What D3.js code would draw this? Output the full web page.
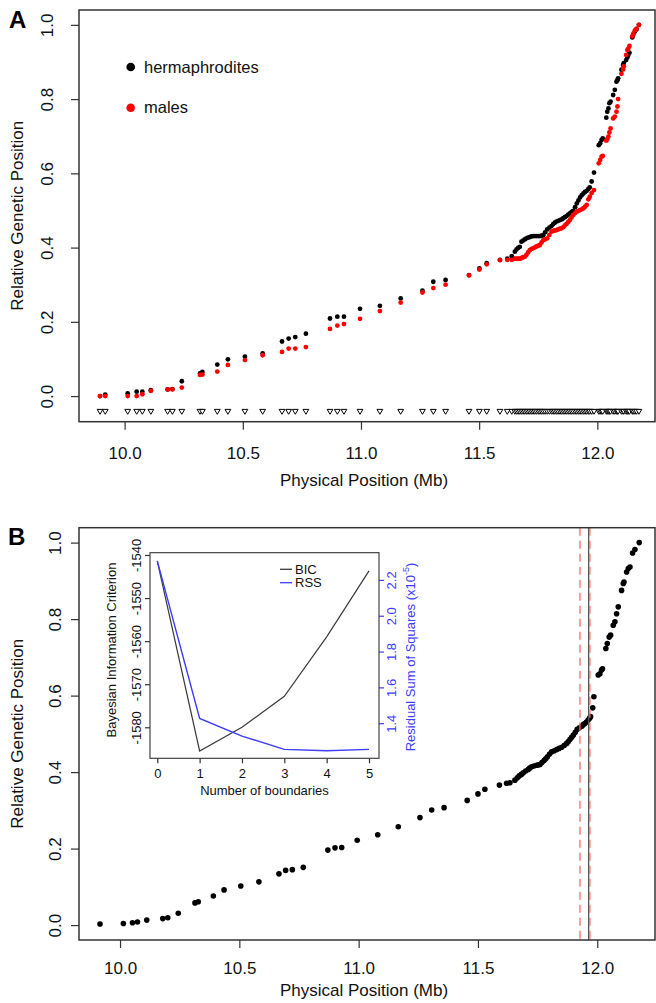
<!DOCTYPE html>
<html><head><meta charset="utf-8">
<script src="https://cdn.jsdelivr.net/npm/d3@7"></script>
<style>
body{margin:0;background:#fff;}
svg{display:block;font-family:"Liberation Sans",Arial,Helvetica,sans-serif;}
</style></head>
<body><svg id="c" width="656" height="1003"></svg>
<script>
// ---------- Panel A data (marker physical positions, Mb) ----------
const markerMb = [9.896,9.918,10.013,10.051,10.075,10.111,10.182,10.202,10.242,10.319,10.329,10.392,10.437,10.509,10.584,10.666,10.694,10.722,10.767,10.869,10.900,10.928,10.996,11.080,11.168,11.260,11.306,11.358,11.457,11.501,11.532,11.588,11.619,11.638,
11.651,11.658,11.665,11.672,11.679,11.686,11.693,11.700,11.707,11.714,11.721,11.728,11.735,11.742,11.750,11.757,11.764,11.771,11.779,11.788,11.797,11.806,11.813,11.820,11.827,11.834,11.842,11.849,11.856,11.863,11.870,11.877,11.884,11.891,11.898,11.906,11.913,11.920,11.927,11.934,11.941,11.948,11.955,11.962,11.968,11.976,11.986,
12.006,12.012,12.018,12.023,12.038,12.042,12.047,12.051,12.056,12.067,12.074,12.081,12.085,12.088,12.102,12.109,12.112,12.122,12.127,12.131,12.136,12.148,12.152,12.159,12.166,12.176];
const hermaphrodites = [0.000,0.004,0.007,0.012,0.012,0.016,0.018,0.019,0.040,0.061,0.065,0.085,0.099,0.106,0.115,0.147,0.155,0.159,0.168,0.209,0.214,0.214,0.235,0.243,0.263,0.284,0.308,0.313,0.326,0.344,0.358,0.367,0.370,0.377,
0.389,0.395,0.399,0.402,0.416,0.419,0.422,0.425,0.427,0.428,0.430,0.431,0.431,0.431,0.431,0.431,0.432,0.433,0.441,0.449,0.454,0.458,0.463,0.467,0.470,0.472,0.474,0.476,0.479,0.482,0.485,0.489,0.492,0.496,0.499,0.509,0.519,0.527,0.535,0.541,0.546,0.550,0.553,0.558,0.562,0.578,0.602,
0.676,0.681,0.690,0.694,0.750,0.766,0.775,0.789,0.793,0.811,0.825,0.847,0.851,0.856,0.879,0.892,0.897,0.905,0.912,0.919,0.925,0.966,0.973,0.982,0.988,1.000];
const males = [0.000,0.000,0.000,0.000,0.005,0.014,0.018,0.018,0.023,0.057,0.058,0.066,0.084,0.097,0.110,0.119,0.128,0.128,0.132,0.181,0.190,0.194,0.208,0.229,0.252,0.279,0.291,0.300,0.325,0.341,0.355,0.366,0.367,0.367,
0.370,0.370,0.370,0.370,0.372,0.374,0.375,0.380,0.387,0.393,0.396,0.398,0.400,0.403,0.405,0.407,0.414,0.420,0.422,0.425,0.434,0.443,0.445,0.446,0.447,0.449,0.451,0.452,0.455,0.460,0.464,0.469,0.474,0.481,0.488,0.493,0.497,0.499,0.501,0.503,0.506,0.510,0.515,0.530,0.537,0.547,0.555,
0.627,0.636,0.645,0.647,0.688,0.692,0.699,0.710,0.721,0.748,0.753,0.766,0.780,0.800,0.868,0.880,0.888,0.919,0.932,0.936,0.943,0.969,0.976,0.985,0.990,1.000];

// ---------- Panel B data ----------
const bMb = [9.916,10.014,10.052,10.073,10.112,10.179,10.200,10.244,10.314,10.328,10.391,10.436,10.506,10.582,10.666,10.694,10.722,10.768,10.871,10.901,10.929,10.994,11.080,11.166,11.257,11.306,11.358,11.455,11.500,11.529,11.590,11.620,11.634,11.655,
11.665,11.673,11.682,11.690,11.700,11.711,11.718,11.725,11.735,11.746,11.753,11.760,11.768,11.777,11.784,11.791,11.800,11.809,11.820,11.830,11.840,11.851,11.862,11.872,11.879,11.886,11.893,11.900,11.908,11.916,11.925,11.935,11.941,11.948,11.955,11.962,11.968,11.972,11.981,11.986,
12.004,12.011,12.018,12.022,12.036,12.042,12.050,12.056,12.067,12.074,12.081,12.088,12.102,12.109,12.112,12.123,12.130,12.137,12.148,12.158,12.176];
const bGen = [0.003,0.004,0.006,0.008,0.013,0.017,0.019,0.031,0.058,0.061,0.076,0.092,0.102,0.113,0.134,0.143,0.145,0.151,0.196,0.202,0.203,0.222,0.236,0.257,0.281,0.301,0.307,0.326,0.343,0.355,0.366,0.371,0.372,0.379,
0.385,0.390,0.394,0.398,0.403,0.407,0.411,0.414,0.416,0.418,0.419,0.420,0.425,0.430,0.435,0.440,0.447,0.453,0.456,0.459,0.462,0.465,0.470,0.475,0.480,0.486,0.491,0.497,0.504,0.512,0.516,0.520,0.524,0.527,0.531,0.536,0.541,0.545,0.568,0.597,
0.654,0.657,0.667,0.670,0.723,0.736,0.753,0.758,0.784,0.793,0.814,0.832,0.875,0.893,0.897,0.923,0.932,0.936,0.973,0.982,1.000];
const boundaryRed = [11.9275, 11.969];
const boundaryBest = [11.964];

// ---------- Inset data ----------
const nBoundaries = [0,1,2,3,4,5];
const bic = [-1541.4,-1585.5,-1580.0,-1572.8,-1559.0,-1543.7];
const rss = [2.306,1.427,1.328,1.254,1.246,1.254];

// ---------- Ticks ----------
const xTicks = [10.0,10.5,11.0,11.5,12.0];
const yTicks = [0.0,0.2,0.4,0.6,0.8,1.0];
const bicTicks = [-1580,-1570,-1560,-1550,-1540];
const rssTicks = [1.4,1.6,1.8,2.0,2.2];

const svg = d3.select("#c");
const AX = "#333";

function styleAxis(g){
  g.select(".domain").remove();
  g.selectAll(".tick line").attr("stroke",AX).attr("stroke-width",1.2);
  g.selectAll(".tick text").attr("fill","#111");
}

function mainPanel(opt){
  const x = d3.scaleLinear().domain(opt.xd).range([79,655]);
  const y = d3.scaleLinear().domain(opt.yd).range([opt.bottom,opt.top]);
  const g = svg.append("g");
  const gx = g.append("g").attr("transform",`translate(0,${opt.bottom})`)
    .call(d3.axisBottom(x).tickValues(xTicks).tickFormat(d3.format(".1f")).tickSize(8))
    .attr("font-size",17).attr("font-family",null);
  styleAxis(gx);
  gx.selectAll(".tick text").attr("y",opt.xLabOff).attr("dy","0.35em");
  const gy = g.append("g").attr("transform","translate(79,0)")
    .call(d3.axisLeft(y).tickValues(yTicks).tickFormat(d3.format(".1f")).tickSize(8))
    .attr("font-size",17).attr("font-family",null);
  styleAxis(gy);
  gy.selectAll(".tick text").attr("transform","rotate(-90)").attr("x",0).attr("y",-opt.yLabOff)
    .attr("dy","0.35em").attr("text-anchor","middle");
  g.append("text").attr("x",(79+655)/2 - 3).attr("y",opt.xTitleY).attr("text-anchor","middle")
    .attr("font-size",17).attr("fill","#111").text("Physical Position (Mb)");
  g.append("text").attr("transform",`translate(17,${(opt.top+opt.bottom)/2}) rotate(-90)`)
    .attr("text-anchor","middle").attr("dy","0.35em").attr("font-size",17).attr("fill","#111")
    .text("Relative Genetic Position");
  g.append("text").attr("x",opt.labX).attr("y",opt.labY).attr("font-size",24).attr("font-weight","bold")
    .attr("fill","#000").text(opt.label);
  return {x,y,g};
}

// ===== Panel A =====
const A = mainPanel({xd:[9.807,12.244], yd:[-0.069,1.040], top:10, bottom:421.7,
  xLabOff:31.3, yLabOff:32, xTitleY:486, label:"A", labX:9, labY:28});
const markersA = markerMb.map((m,i)=>({m,h:hermaphrodites[i],f:males[i]}));
A.g.selectAll("path.tri").data(markersA).join("path").attr("class","tri")
  .attr("transform",d=>`translate(${A.x(d.m)},${A.y(-0.042)})`)
  .attr("d","M-2.9,-2.3L2.9,-2.3L0,2.6Z").attr("fill","#fff").attr("stroke","#000").attr("stroke-width",1);
A.g.selectAll("circle.h").data(markersA).join("circle").attr("class","h")
  .attr("cx",d=>A.x(d.m)).attr("cy",d=>A.y(d.h)).attr("r",2.4).attr("fill","#000");
A.g.selectAll("circle.f").data(markersA).join("circle").attr("class","f")
  .attr("cx",d=>A.x(d.m)).attr("cy",d=>A.y(d.f)).attr("r",2.4).attr("fill","#ff0000");
A.g.append("rect").attr("x",79).attr("y",10).attr("width",576).attr("height",411.7)
  .attr("fill","none").attr("stroke",AX).attr("stroke-width",1.5);
// legend
const legA = [{t:"hermaphrodites",c:"#000"},{t:"males",c:"#ff0000"}];
legA.forEach((d,i)=>{
  A.g.append("circle").attr("cx",130.7).attr("cy",67+i*40.7).attr("r",4.3).attr("fill",d.c);
  A.g.append("text").attr("x",144).attr("y",67+i*40.7).attr("dy","0.35em").attr("font-size",16.5)
    .attr("fill","#111").text(d.t);
});

// ===== Panel B =====
const B = mainPanel({xd:[9.828,12.242], yd:[-0.039,1.039], top:527.7, bottom:940,
  xLabOff:28, yLabOff:24, xTitleY:996, label:"B", labX:8, labY:545});
const ptsB = bMb.map((m,i)=>({m,v:bGen[i]}));
B.g.selectAll("circle.b").data(ptsB).join("circle").attr("class","b")
  .attr("cx",d=>B.x(d.m)).attr("cy",d=>B.y(d.v)).attr("r",2.8).attr("fill","#000");
B.g.selectAll("line.best").data(boundaryBest).join("line").attr("class","best")
  .attr("x1",d=>B.x(d)).attr("x2",d=>B.x(d)).attr("y1",527.7).attr("y2",940)
  .attr("stroke","#555").attr("stroke-width",1.3);
B.g.selectAll("line.red").data(boundaryRed).join("line").attr("class","red")
  .attr("x1",d=>B.x(d)).attr("x2",d=>B.x(d)).attr("y1",527.7).attr("y2",940)
  .attr("stroke","#ff6a6a").attr("stroke-width",1.3).attr("stroke-dasharray","8,5");
B.g.append("rect").attr("x",79).attr("y",527.7).attr("width",576).attr("height",412.3)
  .attr("fill","none").attr("stroke",AX).attr("stroke-width",1.5);

// ===== Inset =====
const IL=150, IR=379, IT=552.7, IB=758.3;
const xi = d3.scaleLinear().domain([-0.172,5.236]).range([IL,IR]);
const yb = d3.scaleLinear().domain([-1587.2,-1539.47]).range([IB,IT]);
const yr = d3.scaleLinear().domain([1.204,2.352]).range([IB,IT]);
const BLUE = "#3c3cff";
const hyphenInt = d => String(d);
const gi = svg.append("g");
gi.append("rect").attr("x",IL).attr("y",IT).attr("width",IR-IL).attr("height",IB-IT).attr("fill","#fff");
const gix = gi.append("g").attr("transform",`translate(0,${IB})`)
  .call(d3.axisBottom(xi).tickValues(nBoundaries).tickFormat(hyphenInt).tickSize(5))
  .attr("font-size",13).attr("font-family",null);
styleAxis(gix);
gix.selectAll(".tick text").attr("y",15).attr("dy","0.35em");
const giy = gi.append("g").attr("transform",`translate(${IL},0)`)
  .call(d3.axisLeft(yb).tickValues(bicTicks).tickFormat(hyphenInt).tickSize(5))
  .attr("font-size",13).attr("font-family",null);
styleAxis(giy);
giy.selectAll(".tick text").attr("transform","rotate(-90)").attr("x",0).attr("y",-13.3)
  .attr("dy","0.35em").attr("text-anchor","middle");
const gir = gi.append("g").attr("transform",`translate(${IR},0)`)
  .call(d3.axisRight(yr).tickValues(rssTicks).tickFormat(d3.format(".1f")).tickSize(5))
  .attr("font-size",13).attr("font-family",null);
styleAxis(gir);
gir.selectAll(".tick line").attr("stroke",BLUE);
gir.selectAll(".tick text").attr("fill",BLUE).attr("transform","rotate(-90)").attr("x",0).attr("y",12)
  .attr("dy","0.35em").attr("text-anchor","middle");
gi.append("path").datum(nBoundaries.map((n,i)=>[n,bic[i]]))
  .attr("d",d3.line().x(d=>xi(d[0])).y(d=>yb(d[1]))).attr("fill","none").attr("stroke","#3a3a3a").attr("stroke-width",1.2);
gi.append("path").datum(nBoundaries.map((n,i)=>[n,rss[i]]))
  .attr("d",d3.line().x(d=>xi(d[0])).y(d=>yr(d[1]))).attr("fill","none").attr("stroke",BLUE).attr("stroke-width",1.4);
gi.append("rect").attr("x",IL).attr("y",IT).attr("width",IR-IL).attr("height",IB-IT)
  .attr("fill","none").attr("stroke",AX).attr("stroke-width",1.1);
gi.append("text").attr("x",(IL+IR)/2).attr("y",790).attr("dy","0.35em").attr("text-anchor","middle")
  .attr("font-size",13).attr("fill","#111").text("Number of boundaries");
gi.append("text").attr("transform",`translate(111.5,650) rotate(-90)`).attr("text-anchor","middle")
  .attr("dy","0.35em").attr("font-size",13).attr("fill","#111").text("Bayesian Information Criterion");
const rt = gi.append("text").attr("transform",`translate(410,657) rotate(-90)`).attr("text-anchor","middle")
  .attr("dy","0.35em").attr("font-size",13).attr("fill",BLUE);
rt.append("tspan").text("Residual Sum of Squares (x10");
rt.append("tspan").attr("font-size",9).attr("dy","-0.6em").text("-5");
rt.append("tspan").attr("dy","0.45em").text(")");
const legI = [{t:"BIC",c:"#3a3a3a"},{t:"RSS",c:BLUE}];
legI.forEach((d,i)=>{
  const yy = 569.3 + i*13.4;
  gi.append("line").attr("x1",280).attr("x2",292).attr("y1",yy).attr("y2",yy).attr("stroke",d.c).attr("stroke-width",1.3);
  gi.append("text").attr("x",295).attr("y",yy).attr("dy","0.35em").attr("font-size",13).attr("fill","#111").text(d.t);
});
</script></body></html>
